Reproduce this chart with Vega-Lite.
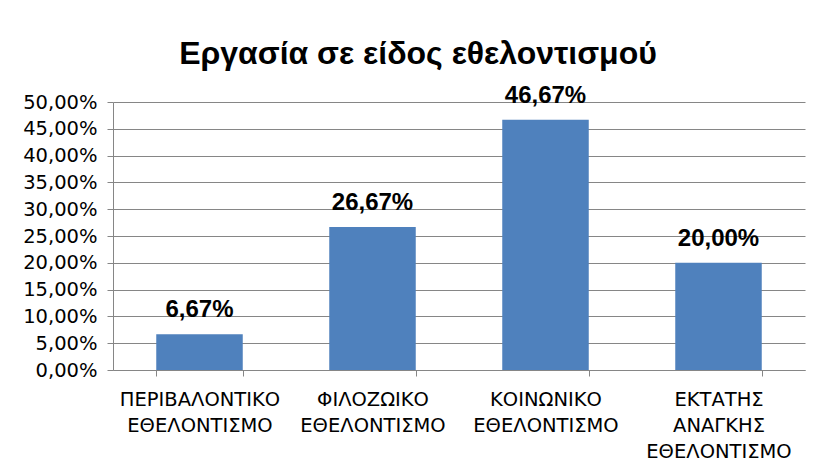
{
  "$schema": "https://vega.github.io/schema/vega-lite/v6.json",
  "autosize": {"type": "none"},
  "width": 692,
  "height": 268,
  "padding": {"left": 113, "top": 102, "right": 15, "bottom": 105},
  "background": "white",
  "title": {
    "text": "Εργασία σε είδος εθελοντισμού",
    "font": "Liberation Sans",
    "fontSize": 32,
    "fontWeight": "bold",
    "color": "#000000",
    "anchor": "middle",
    "offset": 13,
    "dx": -41
  },
  "config": {
    "locale": {"number": {"decimal": ",", "thousands": ".", "grouping": [3], "currency": ["", " €"]}},
    "view": {"stroke": null},
    "font": "DejaVu Sans"
  },
  "data": {
    "values": [
      {"category": "ΠΕΡΙΒΑΛΟΝΤΙΚΟ ΕΘΕΛΟΝΤΙΣΜΟ", "value": 0.0667},
      {"category": "ΦΙΛΟΖΩΙΚΟ ΕΘΕΛΟΝΤΙΣΜΟ", "value": 0.2667},
      {"category": "ΚΟΙΝΩΝΙΚΟ ΕΘΕΛΟΝΤΙΣΜΟ", "value": 0.4667},
      {"category": "ΕΚΤΑΤΗΣ ΑΝΑΓΚΗΣ ΕΘΕΛΟΝΤΙΣΜΟ", "value": 0.2}
    ]
  },
  "encoding": {
    "x": {
      "field": "category",
      "type": "nominal",
      "sort": null,
      "scale": {"paddingInner": 0.5, "paddingOuter": 0.25},
      "axis": {
        "title": null,
        "labelAngle": 0,
        "labelExpr": "split(datum.label, ' ')",
        "labelFont": "DejaVu Sans",
        "labelFontSize": 19.5,
        "labelColor": "#000000",
        "labelLineHeight": 26,
        "labelPadding": 14,
        "labelLimit": 300,
        "tickBand": "extent",
        "tickSize": 6,
        "tickColor": "#868686",
        "domainColor": "#868686",
        "grid": false
      }
    },
    "y": {
      "field": "value",
      "type": "quantitative",
      "scale": {"domain": [0, 0.5]},
      "axis": {
        "title": null,
        "format": ".2%",
        "values": [0, 0.05, 0.1, 0.15, 0.2, 0.25, 0.3, 0.35, 0.4, 0.45, 0.5],
        "labelFont": "DejaVu Sans",
        "labelFontSize": 19.5,
        "labelColor": "#000000",
        "labelPadding": 10,
        "tickSize": 6,
        "tickColor": "#868686",
        "domainColor": "#868686",
        "gridColor": "#868686",
        "gridWidth": 1
      }
    }
  },
  "layer": [
    {"mark": {"type": "bar", "color": "#4F81BD"}},
    {
      "mark": {"type": "text", "baseline": "bottom", "dy": -12, "font": "Liberation Sans", "fontSize": 24, "fontWeight": "bold", "color": "#000000"},
      "encoding": {"text": {"field": "value", "type": "quantitative", "format": ".2%"}}
    }
  ]
}
